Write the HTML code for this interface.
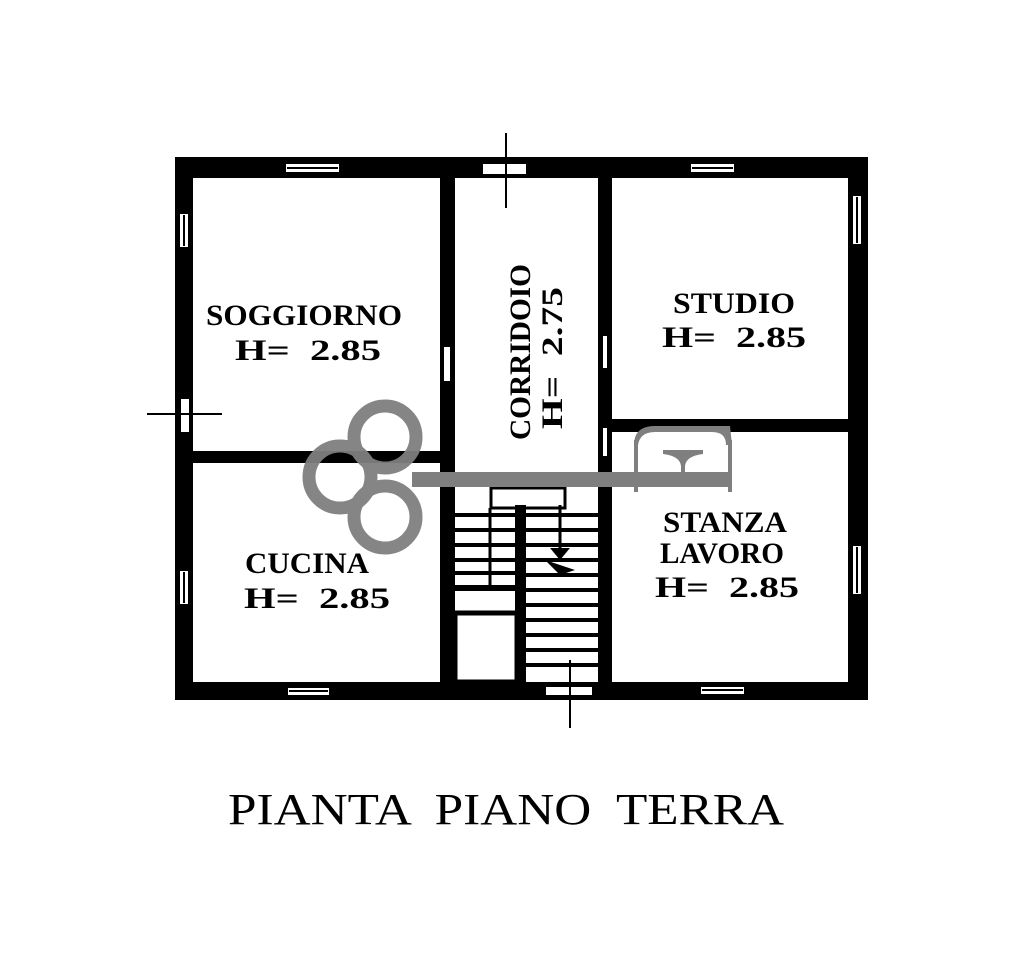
<!DOCTYPE html>
<html><head><meta charset="utf-8"><style>
html,body{margin:0;padding:0;background:#fff;width:1023px;height:959px;overflow:hidden}
svg{display:block}
text{white-space:pre}
</style></head><body>
<svg width="1023" height="959" viewBox="0 0 1023 959" xmlns="http://www.w3.org/2000/svg">
<g fill="#000">
<rect x="175" y="157" width="693" height="21"/>
<rect x="175" y="157" width="18" height="543"/>
<rect x="848" y="157" width="20" height="543"/>
<rect x="175" y="682" width="693" height="18"/>
<rect x="440" y="178" width="15" height="504"/>
<rect x="598" y="178" width="14" height="504"/>
<rect x="193" y="451" width="247" height="12"/>
<rect x="612" y="419" width="236" height="13"/>
</g>
<g fill="#fff" stroke="#000" stroke-width="2">
<rect x="285" y="163" width="55" height="10"/>
<rect x="482" y="163" width="45" height="12"/>
<rect x="690" y="163" width="45" height="10"/>
<rect x="852" y="195" width="10" height="50"/>
<rect x="852" y="545" width="10" height="50"/>
<rect x="179" y="213" width="10" height="35"/>
<rect x="179" y="570" width="10" height="35"/>
<rect x="180" y="398" width="10" height="35"/>
<rect x="287" y="687" width="43" height="9"/>
<rect x="700" y="686" width="45" height="9"/>
<rect x="545" y="686" width="48" height="10"/>
<rect x="443" y="346" width="8" height="36"/>
<rect x="602" y="335" width="6" height="34"/>
<rect x="602" y="427" width="6" height="30"/>
</g>
<g stroke="#000" stroke-width="2">
<line x1="287" y1="168" x2="338" y2="168"/>
<line x1="692" y1="168" x2="733" y2="168"/>
<line x1="857" y1="197" x2="857" y2="243"/>
<line x1="857" y1="547" x2="857" y2="593"/>
<line x1="184" y1="215" x2="184" y2="246"/>
<line x1="184" y1="572" x2="184" y2="603"/>
<line x1="289" y1="691" x2="328" y2="691"/>
<line x1="702" y1="690" x2="743" y2="690"/>
<line x1="506" y1="133" x2="506" y2="208"/>
<line x1="147" y1="414" x2="222" y2="414"/>
<line x1="570" y1="660" x2="570" y2="728"/>
</g>
<g fill="none" stroke="#000" stroke-width="4">
<rect x="491" y="488" width="74" height="20" stroke-width="3"/>
<rect x="455" y="613" width="62" height="69" stroke-width="5"/>
</g>
<rect x="515" y="505" width="11" height="177" fill="#000"/>
<rect x="455" y="585" width="62" height="6" fill="#000"/>
<g stroke="#000" stroke-width="4">
<line x1="455" y1="515" x2="515" y2="515"/>
<line x1="455" y1="530" x2="515" y2="530"/>
<line x1="455" y1="545" x2="515" y2="545"/>
<line x1="455" y1="560" x2="515" y2="560"/>
<line x1="455" y1="573" x2="515" y2="573"/>
<line x1="490" y1="508" x2="490" y2="585" stroke-width="3"/>
<line x1="526" y1="515" x2="598" y2="515"/>
<line x1="526" y1="530" x2="598" y2="530"/>
<line x1="526" y1="545" x2="598" y2="545"/>
<line x1="526" y1="560" x2="598" y2="560"/>
<line x1="526" y1="575" x2="598" y2="575"/>
<line x1="526" y1="590" x2="598" y2="590"/>
<line x1="526" y1="605" x2="598" y2="605"/>
<line x1="526" y1="620" x2="598" y2="620"/>
<line x1="526" y1="635" x2="598" y2="635"/>
<line x1="526" y1="650" x2="598" y2="650"/>
<line x1="526" y1="665" x2="598" y2="665"/>
<line x1="560" y1="505" x2="560" y2="555" stroke-width="3"/>
</g>
<path d="M545 560 L575 570 L560 575 Z" fill="#000"/>
<path d="M550 548 L570 548 L560 560 Z" fill="#000"/>
<g fill="none" stroke="#7f7f7f" stroke-width="13" opacity="0.95">
<circle cx="385" cy="437" r="31"/>
<circle cx="340" cy="477" r="31"/>
<circle cx="385" cy="517" r="31"/>
</g>
<g fill="#7f7f7f">
<rect x="412" y="472" width="320" height="15"/>
<rect x="634" y="440" width="4" height="52"/>
<rect x="728" y="440" width="4" height="52"/>
<path d="M634 445 Q634 426 655 426 L730 426 L732 445 L726 445 Q726 432 712 432 L655 432 Q640 432 638 445 Z"/>
<path d="M663 450 L703 450 L703 454 Q686 456 685 466 L685 472 L681 472 L681 466 Q680 456 663 454 Z"/>
</g>
<g font-family="'Liberation Serif',serif" font-weight="bold" fill="#000" font-size="30">
<text x="304" y="325" text-anchor="middle" textLength="196" lengthAdjust="spacingAndGlyphs">SOGGIORNO</text>
<text x="308" y="360" text-anchor="middle" textLength="146" lengthAdjust="spacingAndGlyphs" xml:space="preserve">H=  2.85</text>
<text x="734" y="313" text-anchor="middle" textLength="122" lengthAdjust="spacingAndGlyphs">STUDIO</text>
<text x="734" y="347" text-anchor="middle" textLength="144" lengthAdjust="spacingAndGlyphs" xml:space="preserve">H=  2.85</text>
<text x="725" y="532" text-anchor="middle" textLength="124" lengthAdjust="spacingAndGlyphs">STANZA</text>
<text x="722" y="563" text-anchor="middle" textLength="124" lengthAdjust="spacingAndGlyphs">LAVORO</text>
<text x="727" y="597" text-anchor="middle" textLength="144" lengthAdjust="spacingAndGlyphs" xml:space="preserve">H=  2.85</text>
<text x="307" y="573" text-anchor="middle" textLength="124" lengthAdjust="spacingAndGlyphs">CUCINA</text>
<text x="317" y="608" text-anchor="middle" textLength="146" lengthAdjust="spacingAndGlyphs" xml:space="preserve">H=  2.85</text>
<text transform="translate(530,352) rotate(-90)" text-anchor="middle" textLength="176" lengthAdjust="spacingAndGlyphs">CORRIDOIO</text>
<text transform="translate(562,358) rotate(-90)" text-anchor="middle" textLength="142" lengthAdjust="spacingAndGlyphs" xml:space="preserve">H=  2.75</text>
</g>
<text x="506" y="824" text-anchor="middle" font-family="'Liberation Serif',serif" font-size="44" textLength="556" lengthAdjust="spacingAndGlyphs" fill="#000" xml:space="preserve">PIANTA  PIANO  TERRA</text>
</svg>
</body></html>
